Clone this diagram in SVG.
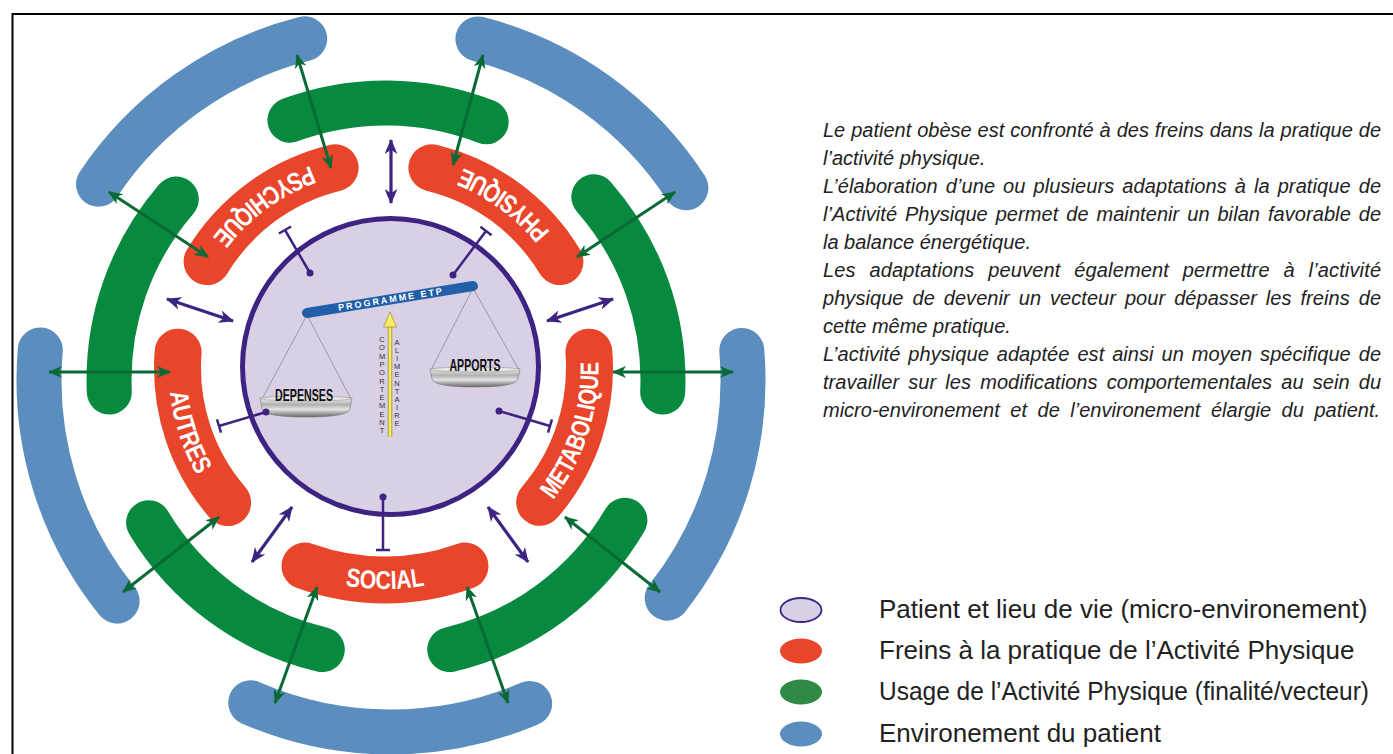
<svg xmlns="http://www.w3.org/2000/svg" width="1393" height="754" viewBox="0 0 1393 754">
<style>
.blue{fill:none;stroke:#5b8ebf;stroke-width:45;stroke-linecap:round}
.green{fill:none;stroke:#078a3f;stroke-width:45;stroke-linecap:round}
.red{fill:none;stroke:#e8452a;stroke-width:47;stroke-linecap:round}
.lbl{font-family:"Liberation Sans Narrow","Liberation Sans",Arial,sans-serif;font-weight:bold;font-size:26px;fill:#ffffff}
.ga{fill:none;stroke:#0a6a35;stroke-width:3;marker-start:url(#ag);marker-end:url(#ag)}
.pa{fill:none;stroke:#3d2382;stroke-width:3.2;marker-start:url(#ap);marker-end:url(#ap)}
.tb{fill:none;stroke:#3d2382;stroke-width:2.5}
.dot{fill:#3d2382}
.str{fill:none;stroke:#8a8a8a;stroke-width:0.8}
.pan{fill:url(#panG);stroke:#777;stroke-width:0.6}
.pt{font-family:"Liberation Sans Narrow","Liberation Sans",Arial,sans-serif;font-weight:bold;font-size:17px;fill:#111}
.vt{font-family:"Liberation Sans",Arial,sans-serif;font-size:7.5px;fill:#333;text-anchor:middle}
.para{font-family:"Liberation Sans",Arial,sans-serif;font-style:italic;font-size:20px;fill:#222}
.leg{font-family:"Liberation Sans",Arial,sans-serif;font-size:26px;fill:#222}
</style>
<defs>
<marker id="ag" viewBox="0 0 14 12" refX="13" refY="6" markerWidth="14" markerHeight="12" markerUnits="userSpaceOnUse" orient="auto-start-reverse"><path d="M0,0 L14,6 L0,12 L4,6 Z" fill="#0a6a35"/></marker>
<marker id="ap" viewBox="0 0 14 12" refX="13" refY="6" markerWidth="15" markerHeight="13" markerUnits="userSpaceOnUse" orient="auto-start-reverse"><path d="M0,0 L14,6 L0,12 L4,6 Z" fill="#3d2382"/></marker>
<linearGradient id="panG" x1="0" y1="0" x2="0" y2="1">
<stop offset="0" stop-color="#f2f2f2"/><stop offset="0.35" stop-color="#b0b0b0"/><stop offset="0.6" stop-color="#e4e4e4"/><stop offset="1" stop-color="#666"/>
</linearGradient>
<path id="tp-psy" d="M332.9,159 A215,215 0 0 0 199.4,257"/>
<path id="tp-phy" d="M567.6,257 A215,215 0 0 0 434.1,159"/>
<path id="tp-met" d="M546.5,508.2 A215,215 0 0 0 597.9,351.5"/>
<path id="tp-soc" d="M302,574.5 A245,245 0 0 0 468,574.5"/>
<path id="tp-aut" d="M169.1,351.5 A215,215 0 0 0 220.7,508.5"/>
</defs>
<rect width="1393" height="754" fill="#ffffff"/>
<path d="M12.5,754 L12.5,14 L1393,14" fill="none" stroke="#000" stroke-width="2"/>

<g id="env-bottom"><path class="blue" d="M250.7,702.8 A352,352 0 0 0 529.7,703.5"/></g>
<g id="env-right"><path class="blue" d="M667.2,598.2 A352,352 0 0 0 741.8,350.5"/></g>
<g id="env-topright"><path class="blue" d="M685.9,187.8 A352,352 0 0 0 477.9,38.9"/></g>
<g id="env-topleft"><path class="blue" d="M304.7,38.8 A352,352 0 0 0 98.5,184.2"/></g>
<g id="env-left"><path class="blue" d="M40.3,349.9 A352,352 0 0 0 117.1,601.1"/></g>

<g id="usage-top"><path class="green" d="M486.2,121.8 A277,277 0 0 0 289.9,120.2"/></g>
<g id="usage-right"><path class="green" d="M662.7,392.1 A277,277 0 0 0 593.8,196.8"/></g>
<g id="usage-bottomright"><path class="green" d="M449.7,649.6 A277,277 0 0 0 624.9,520.2"/></g>
<g id="usage-bottomleft"><path class="green" d="M148.6,522.7 A277,277 0 0 0 322.3,649.6"/></g>
<g id="usage-left"><path class="green" d="M176.3,199 A277,277 0 0 0 109.3,392.1"/></g>

<g id="frein-psychique"><path class="red" d="M335.1,167.8 A206,206 0 0 0 207.1,261.6"/>
<text class="lbl"><textPath href="#tp-psy" startOffset="50%" text-anchor="middle" textLength="123" lengthAdjust="spacingAndGlyphs">PSYCHIQUE</textPath></text></g>
<g id="frein-physique"><path class="red" d="M559.9,261.6 A206,206 0 0 0 431.9,167.8"/>
<text class="lbl"><textPath href="#tp-phy" startOffset="50%" text-anchor="middle" textLength="109" lengthAdjust="spacingAndGlyphs">PHYSIQUE</textPath></text></g>
<g id="frein-metabolique"><path class="red" d="M539.7,502.3 A206,206 0 0 0 588.9,352.2"/>
<text class="lbl"><textPath href="#tp-met" startOffset="50%" text-anchor="middle" textLength="148" lengthAdjust="spacingAndGlyphs">METABOLIQUE</textPath></text></g>
<g id="frein-social"><path class="red" d="M305,566 A236,236 0 0 0 465,566"/>
<text class="lbl"><textPath href="#tp-soc" startOffset="50%" text-anchor="middle" textLength="80" lengthAdjust="spacingAndGlyphs">SOCIAL</textPath></text></g>
<g id="frein-autres"><path class="red" d="M178.1,352.2 A206,206 0 0 0 227.6,502.6"/>
<text class="lbl"><textPath href="#tp-aut" startOffset="50%" text-anchor="middle" textLength="88" lengthAdjust="spacingAndGlyphs">AUTRES</textPath></text></g>

<g id="patient">
<circle cx="390.5" cy="366.5" r="148" fill="#d9d0e6" stroke="#3d2382" stroke-width="5"/>
<line class="str" x1="307" y1="315" x2="262" y2="399"/>
<line class="str" x1="307" y1="315" x2="351" y2="399"/>
<line class="str" x1="473" y1="288" x2="431" y2="370"/>
<line class="str" x1="473" y1="288" x2="519" y2="370"/>
<line x1="307" y1="313" x2="473" y2="286" stroke="#2160a8" stroke-width="10" stroke-linecap="round"/>
<text x="390" y="302.5" transform="rotate(-9.2 390 299.5)" text-anchor="middle" font-family="Liberation Sans, Arial, sans-serif" font-weight="bold" font-size="9" fill="#ffffff" textLength="105" lengthAdjust="spacing">PROGRAMME ETP</text>
<path class="pan" d="M260,398 L352,398 L350,409 Q348,417 306,417 Q264,417 262,409 Z"/>
<ellipse cx="306" cy="398.5" rx="46" ry="2.5" fill="#e6e6e6" stroke="#888" stroke-width="0.5"/>
<text class="pt" x="304" y="401" text-anchor="middle" textLength="58" lengthAdjust="spacingAndGlyphs">DEPENSES</text>
<path class="pan" d="M430,369 L520,369 L518,379 Q516,387 475,387 Q434,387 432,379 Z"/>
<ellipse cx="475" cy="369.5" rx="45" ry="2.5" fill="#e6e6e6" stroke="#888" stroke-width="0.5"/>
<text class="pt" x="475" y="371" text-anchor="middle" textLength="51" lengthAdjust="spacingAndGlyphs">APPORTS</text>
<line x1="390" y1="437" x2="390" y2="322" stroke="#9a8d3a" stroke-width="4.5"/>
<line x1="390" y1="437" x2="390" y2="322" stroke="#f8ec62" stroke-width="2.8"/>
<path d="M390,312 L383.5,327 L396.5,327 Z" fill="#f8ec62" stroke="#9a8d3a" stroke-width="0.7"/>
<text class="vt"><tspan x="382" y="342">C</tspan><tspan x="382" dy="8.3">O</tspan><tspan x="382" dy="8.3">M</tspan><tspan x="382" dy="8.3">P</tspan><tspan x="382" dy="8.3">O</tspan><tspan x="382" dy="8.3">R</tspan><tspan x="382" dy="8.3">T</tspan><tspan x="382" dy="8.3">E</tspan><tspan x="382" dy="8.3">M</tspan><tspan x="382" dy="8.3">E</tspan><tspan x="382" dy="8.3">N</tspan><tspan x="382" dy="8.3">T</tspan></text>
<text class="vt"><tspan x="397" y="345">A</tspan><tspan x="397" dy="8.1">L</tspan><tspan x="397" dy="8.1">I</tspan><tspan x="397" dy="8.1">M</tspan><tspan x="397" dy="8.1">E</tspan><tspan x="397" dy="8.1">N</tspan><tspan x="397" dy="8.1">T</tspan><tspan x="397" dy="8.1">A</tspan><tspan x="397" dy="8.1">I</tspan><tspan x="397" dy="8.1">R</tspan><tspan x="397" dy="8.1">E</tspan></text>
</g>

<g id="connectors">
<line class="ga" x1="297" y1="55" x2="331" y2="168"/>
<line class="ga" x1="483" y1="55" x2="453" y2="165"/>
<line class="ga" x1="109" y1="192" x2="208" y2="257"/>
<line class="ga" x1="675" y1="192" x2="577" y2="257"/>
<line class="ga" x1="49" y1="372" x2="170" y2="372"/>
<line class="ga" x1="613" y1="372" x2="733" y2="372"/>
<line class="ga" x1="123" y1="592" x2="219" y2="517"/>
<line class="ga" x1="565" y1="517" x2="660" y2="592"/>
<line class="ga" x1="317" y1="587" x2="275" y2="703"/>
<line class="ga" x1="467" y1="587" x2="508" y2="703"/>
<line class="pa" x1="391" y1="140" x2="391" y2="203"/>
<line class="pa" x1="167" y1="299" x2="233" y2="321"/>
<line class="pa" x1="613" y1="299" x2="547" y2="321"/>
<line class="pa" x1="292" y1="507" x2="252" y2="562"/>
<line class="pa" x1="488" y1="507" x2="528" y2="562"/>
<path class="tb" d="M310,273 L285,230 M291.1,226.5 L278.9,233.5"/>
<circle class="dot" cx="310" cy="273" r="3.5"/>
<path class="tb" d="M453,275 L486,231 M491.6,235.2 L480.4,226.8"/>
<circle class="dot" cx="453" cy="275" r="3.5"/>
<path class="tb" d="M499,411 L550,426 M548,432.7 L552,419.3"/>
<circle class="dot" cx="499" cy="411" r="3.5"/>
<path class="tb" d="M383,497 L383,550 M376,550 L390,550"/>
<circle class="dot" cx="383" cy="497" r="3.5"/>
<path class="tb" d="M266,412 L219,426 M221,432.7 L217,419.3"/>
<circle class="dot" cx="266" cy="412" r="3.5"/>
</g>

<g id="description">
<text class="para" x="823" y="137" word-spacing="0.4" textLength="558" lengthAdjust="spacing">Le patient obèse est confronté à des freins dans la pratique de</text>
<text class="para" x="823" y="165">l’activité physique.</text>
<text class="para" x="823" y="193" word-spacing="2.3" textLength="558" lengthAdjust="spacing">L’élaboration d’une ou plusieurs adaptations à la pratique de</text>
<text class="para" x="823" y="221" word-spacing="2.2" textLength="558" lengthAdjust="spacing">l’Activité Physique permet de maintenir un bilan favorable de</text>
<text class="para" x="823" y="249">la balance énergétique.</text>
<text class="para" x="823" y="277" word-spacing="8.1" textLength="558" lengthAdjust="spacing">Les adaptations peuvent également permettre à l’activité</text>
<text class="para" x="823" y="305" word-spacing="3.3" textLength="558" lengthAdjust="spacing">physique de devenir un vecteur pour dépasser les freins de</text>
<text class="para" x="823" y="333">cette même pratique.</text>
<text class="para" x="823" y="361" word-spacing="2.3" textLength="558" lengthAdjust="spacing">L’activité physique adaptée est ainsi un moyen spécifique de</text>
<text class="para" x="823" y="389" word-spacing="3.5" textLength="558" lengthAdjust="spacing">travailler sur les modifications comportementales au sein du</text>
<text class="para" x="823" y="417" word-spacing="5" textLength="557" lengthAdjust="spacing">micro-environement et de l’environement élargie du patient.</text>
</g>

<g id="legend">
<ellipse cx="801" cy="610" rx="20.5" ry="12" fill="#d9d0e6" stroke="#3d2382" stroke-width="1.8"/>
<text class="leg" x="879" y="618">Patient et lieu de vie (micro-environement)</text>
<ellipse cx="801" cy="651" rx="21" ry="12.5" fill="#e8452a"/>
<text class="leg" x="879" y="659">Freins à la pratique de l’Activité Physique</text>
<ellipse cx="801" cy="692" rx="21" ry="12.5" fill="#2f8a45"/>
<text class="leg" x="879" y="700" style="font-size:25px" textLength="490" lengthAdjust="spacingAndGlyphs">Usage de l’Activité Physique (finalité/vecteur)</text>
<ellipse cx="801" cy="734" rx="21" ry="12.5" fill="#5b8ebf"/>
<text class="leg" x="879" y="742">Environement du patient</text>
</g>
</svg>
